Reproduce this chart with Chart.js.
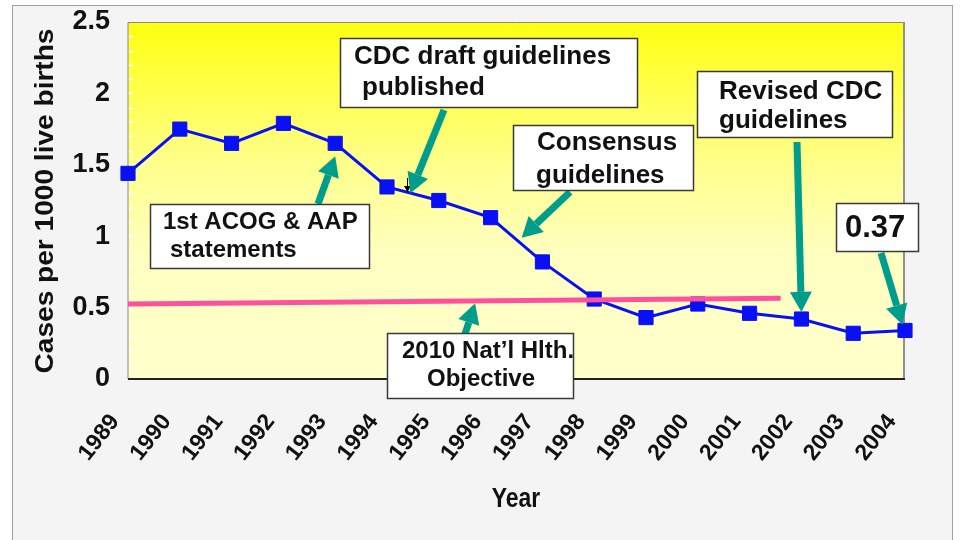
<!DOCTYPE html>
<html>
<head>
<meta charset="utf-8">
<script src="https://cdn.jsdelivr.net/npm/chart.js@4.4.1/dist/chart.umd.min.js"></script>
<style>
html, body { margin: 0; padding: 0; background: #fff; }
#wrap { width: 961px; height: 540px; }
</style>
</head>
<body>
<div id="wrap"><canvas id="chart" width="961" height="540"></canvas></div>
<script>
const years = [1989, 1990, 1991, 1992, 1993, 1994, 1995, 1996, 1997, 1998, 1999, 2000, 2001, 2002, 2003, 2004];
const cases = [1.44, 1.75, 1.65, 1.79, 1.65, 1.345, 1.25, 1.13, 0.82, 0.56, 0.43, 0.525, 0.46, 0.42, 0.32, 0.34];
const objectiveYears = [1989, 2001.6];
const objectiveRate = [0.525, 0.565];

const TEAL = '#009c8c';
const FONT = '"Liberation Sans", Arial, sans-serif';
const NARROW = '"Liberation Sans Narrow", "Arial Narrow", sans-serif';

// callout boxes: box in pixels, arrow tip in data units (year, rate)
const notes = [
    { box: [340, 38, 297, 69], size: 26, lines: [['CDC draft guidelines', 354, 57], ['published', 362, 88]], tail: [444, 110], tip: [1994.45, 1.3] },
    { box: [150, 204, 219, 64], size: 24, lines: [['1st ACOG & AAP', 163, 222], ['statements', 170, 250]], tail: [318, 204], tip: [1993, 1.56] },
    { box: [513, 125, 180, 65], size: 26, lines: [['Consensus', 537, 143], ['guidelines', 536, 176]], tail: [570, 192], tip: [1996.6, 0.99] },
    { box: [697, 71, 195, 66], size: 26, lines: [['Revised CDC', 719, 92], ['guidelines', 719, 121]], tail: [797, 142], tip: [2002, 0.47] },
    { box: [836, 203, 82, 48], size: 31, lines: [['0.37', 845, 228]], tail: [881, 253], tip: [2003.95, 0.38] },
    { box: [387, 333, 186, 65], size: 24, lines: [['2010 Nat\u2019l Hlth.', 402, 351], ['Objective', 427, 379]], tail: [465, 334], tip: [1995.7, 0.53] }
];

function drawArrow(ctx, x1, y1, x2, y2) {
    const ang = Math.atan2(y2 - y1, x2 - x1);
    const head = 20, half = 11;
    const bx = x2 - head * Math.cos(ang), by = y2 - head * Math.sin(ang);
    ctx.strokeStyle = TEAL;
    ctx.lineWidth = 7;
    ctx.beginPath();
    ctx.moveTo(x1, y1);
    ctx.lineTo(bx, by);
    ctx.stroke();
    ctx.fillStyle = TEAL;
    ctx.beginPath();
    ctx.moveTo(x2, y2);
    ctx.lineTo(bx + half * Math.sin(ang), by - half * Math.cos(ang));
    ctx.lineTo(bx - half * Math.sin(ang), by + half * Math.cos(ang));
    ctx.closePath();
    ctx.fill();
}

const backdrop = {
    id: 'backdrop',
    beforeDraw(chart) {
        const { ctx, chartArea: a } = chart;
        ctx.save();
        ctx.fillStyle = '#fff';
        ctx.fillRect(0, 0, chart.width, chart.height);
        ctx.fillStyle = '#f4f4f4';
        ctx.fillRect(12, 5, 941, 540);
        ctx.strokeStyle = '#a0a0a0';
        ctx.lineWidth = 1;
        ctx.strokeRect(12.5, 5.5, 940, 540);

        const g = ctx.createLinearGradient(0, a.top, 0, a.bottom);
        g.addColorStop(0, '#ffff10');
        g.addColorStop(0.4, '#ffff8c');
        g.addColorStop(0.65, '#ffffc0');
        g.addColorStop(1, '#ffffcc');
        ctx.fillStyle = g;
        ctx.fillRect(a.left, a.top, a.right - a.left, a.bottom - a.top);
        ctx.restore();
    },
    beforeDatasetsDraw(chart) {
        const { ctx, chartArea: a } = chart;
        const y = chart.scales.y;
        ctx.save();
        ctx.strokeStyle = '#ffffff';
        ctx.lineWidth = 1.5;
        for (let v = 0.1; v < 2.5; v += 0.1) {
            const py = Math.round(y.getPixelForValue(v)) + 0.5;
            ctx.beginPath();
            ctx.moveTo(a.left, py);
            ctx.lineTo(a.left + 5, py);
            ctx.stroke();
        }
        ctx.strokeStyle = '#8a8a8a';
        ctx.lineWidth = 1;
        ctx.beginPath();
        ctx.moveTo(a.left, a.bottom);
        ctx.lineTo(a.left, a.top + 0.5);
        ctx.lineTo(a.right, a.top + 0.5);
        ctx.stroke();
        ctx.strokeStyle = '#909090';
        ctx.lineWidth = 2;
        ctx.beginPath();
        ctx.moveTo(a.right - 1, a.top);
        ctx.lineTo(a.right - 1, a.bottom);
        ctx.stroke();
        ctx.strokeStyle = '#222';
        ctx.lineWidth = 2;
        ctx.beginPath();
        ctx.moveTo(a.left, a.bottom);
        ctx.lineTo(a.right, a.bottom);
        ctx.stroke();
        ctx.restore();
    },
    afterDraw(chart) {
        const { ctx } = chart;
        const xs = chart.scales.x, ys = chart.scales.y;
        ctx.save();

        // axis titles
        ctx.fillStyle = '#111';
        ctx.textAlign = 'center';
        ctx.textBaseline = 'middle';
        ctx.save();
        ctx.translate(46, 201);
        ctx.rotate(-Math.PI / 2);
        ctx.scale(1.08, 1);
        ctx.font = 'bold 26px ' + FONT;
        ctx.fillText('Cases per 1000 live births', 0, 0);
        ctx.restore();
        ctx.save();
        ctx.translate(516, 500);
        ctx.scale(0.85, 1);
        ctx.font = 'bold 27px ' + FONT;
        ctx.fillText('Year', 0, 0);
        ctx.restore();

        // small black marker on the line
        ctx.strokeStyle = '#000';
        ctx.fillStyle = '#000';
        ctx.lineWidth = 1;
        ctx.beginPath();
        ctx.moveTo(407.5, 178);
        ctx.lineTo(407.5, 190);
        ctx.stroke();
        ctx.beginPath();
        ctx.moveTo(404, 186);
        ctx.lineTo(411, 186);
        ctx.lineTo(407.5, 192);
        ctx.closePath();
        ctx.fill();

        notes.forEach(n => {
            drawArrow(ctx, n.tail[0], n.tail[1], xs.getPixelForValue(n.tip[0]), ys.getPixelForValue(n.tip[1]));
        });
        notes.forEach(n => {
            const [bx, by, bw, bh] = n.box;
            ctx.fillStyle = '#fff';
            ctx.fillRect(bx, by, bw, bh);
            ctx.strokeStyle = '#3a3a3a';
            ctx.lineWidth = 1.5;
            ctx.strokeRect(bx + 0.5, by + 0.5, bw, bh);
            ctx.fillStyle = '#111';
            ctx.textAlign = 'left';
            ctx.textBaseline = 'middle';
            ctx.font = 'bold ' + n.size + 'px ' + FONT;
            n.lines.forEach(l => ctx.fillText(l[0], l[1], l[2]));
        });
        ctx.restore();
    }
};

const ctx = document.getElementById('chart').getContext('2d');
new Chart(ctx, {
    type: 'line',
    data: {
        datasets: [
            {
                label: '2010 objective',
                data: objectiveYears.map((x, i) => ({ x: x, y: objectiveRate[i] })),
                borderColor: '#ff50a0',
                borderWidth: 5,
                pointRadius: 0,
                order: 0,
                clip: false
            },
            {
                label: 'Cases',
                data: years.map((x, i) => ({ x: x, y: cases[i] })),
                borderColor: '#0a10f5',
                backgroundColor: '#0a10f5',
                borderWidth: 3,
                pointStyle: 'rect',
                pointRadius: 10,
                pointBorderWidth: 1,
                order: 1,
                clip: false
            }
        ]
    },
    options: {
        responsive: false,
        animation: false,
        layout: { padding: { left: 0, right: 56, top: 22, bottom: 0 } },
        plugins: {
            legend: { display: false },
            tooltip: { enabled: false }
        },
        scales: {
            x: {
                type: 'linear',
                min: 1989,
                max: 2004,
                grid: { display: false, drawTicks: false },
                border: { display: false },
                ticks: {
                    stepSize: 1,
                    minRotation: 52,
                    maxRotation: 52,
                    padding: 30,
                    labelOffset: -13,
                    color: '#111',
                    font: { family: NARROW, size: 23, weight: 'bold' },
                    callback: v => String(v)
                },
                afterFit: s => { s.height = 161; s.paddingLeft = 0; s.paddingRight = 0; }
            },
            y: {
                min: 0,
                max: 2.5,
                grid: { display: false, drawTicks: false },
                border: { display: false },
                ticks: {
                    stepSize: 0.5,
                    padding: 18,
                    color: '#111',
                    font: { family: NARROW, size: 27, weight: 'bold' },
                    callback: v => String(Math.round(v * 10) / 10)
                },
                afterFit: s => { s.width = 128; s.paddingTop = 0; s.paddingBottom = 0; }
            }
        }
    },
    plugins: [backdrop]
});
</script>
</body>
</html>
